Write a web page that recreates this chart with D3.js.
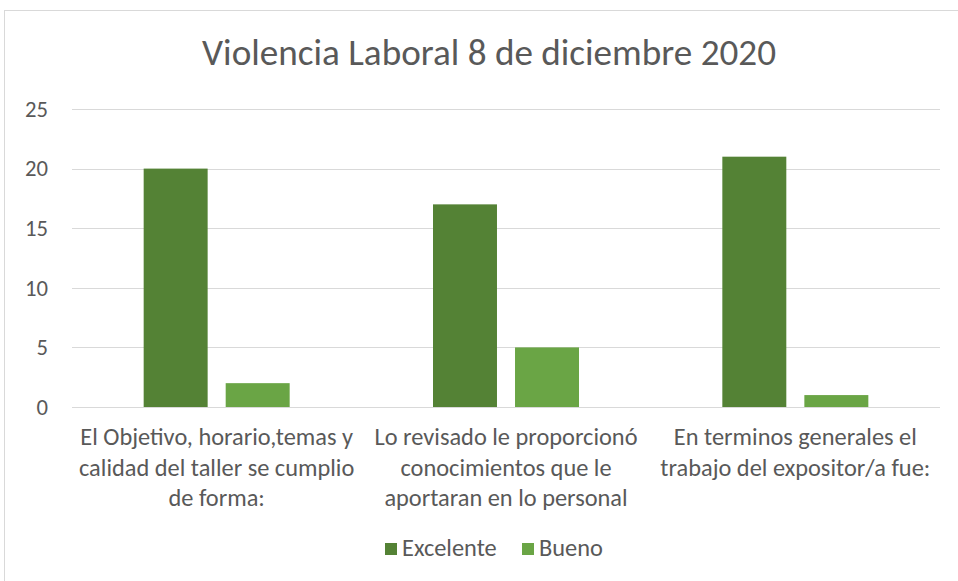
<!DOCTYPE html>
<html>
<head>
<meta charset="utf-8">
<script src="https://cdn.jsdelivr.net/npm/d3@7"></script>
<style>
  html, body { margin: 0; padding: 0; background: #fff; }
  svg text { font-family: Carlito, Lato, "Open Sans", sans-serif; fill: #595959; }
</style>
</head>
<body>
<svg id="chart" width="958" height="581"></svg>
<script>
// chart data
var title = "Violencia Laboral 8 de diciembre 2020";
var categories = [
  ["El Objetivo, horario,temas y", "calidad del taller se cumplio", "de forma:"],
  ["Lo revisado le proporcionó", "conocimientos que le", "aportaran en lo personal"],
  ["En terminos generales el", "trabajo del expositor/a fue:"]
];
var seriesNames = ["Excelente", "Bueno"];
var excelente = [20, 17, 21];
var bueno = [2, 5, 1];
var yTicks = [0, 5, 10, 15, 20, 25];
var colors = ["#548235", "#6aa545"];

var svg = d3.select("#chart");

// chart frame (runs past the right and bottom edge)
svg.append("rect")
  .attr("x", 4.5).attr("y", 10.5)
  .attr("width", 970).attr("height", 600)
  .attr("fill", "#fff")
  .attr("stroke", "#d9d9d9");

// fit a text node's font size to a wanted width
function fitWidth(sel, target) {
  var node = sel.node();
  var fs = parseFloat(sel.attr("font-size"));
  var w = node.getComputedTextLength();
  if (w > 0) sel.attr("font-size", (fs * target / w).toFixed(2));
  return parseFloat(sel.attr("font-size"));
}

var plotLeft = 72, plotRight = 940, plotTop = 109, plotBottom = 407;

var x = d3.scaleBand()
  .domain(d3.range(categories.length))
  .range([plotLeft, plotRight])
  .padding(0);

var y = d3.scaleLinear()
  .domain([0, 25])
  .range([plotBottom, plotTop]);

// title
var t = svg.append("text")
  .attr("x", 489).attr("y", 65)
  .attr("text-anchor", "middle")
  .attr("font-size", 32)
  .attr("font-weight", 300)
  .style("fill", "#595959")
  .text(title);
fitWidth(t, 574);

// gridlines
svg.append("g")
  .selectAll("line")
  .data(yTicks)
  .join("line")
  .attr("x1", plotLeft).attr("x2", plotRight)
  .attr("y1", function(d) { return Math.round(y(d)) + 0.5; })
  .attr("y2", function(d) { return Math.round(y(d)) + 0.5; })
  .attr("stroke", "#d9d9d9")
  .attr("stroke-width", 1);

// y axis labels
var yAxis = d3.axisLeft(y).tickValues(yTicks).tickSize(0).tickPadding(24);
var ya = svg.append("g")
  .attr("transform", "translate(" + plotLeft + ",0)")
  .call(yAxis);
ya.select(".domain").remove();
ya.selectAll("text")
  .attr("font-size", 20)
  .attr("font-family", null)
  .style("fill", "#595959");
var tickFs = fitWidth(ya.selectAll("text").filter(function(d) { return d === 20; }), 23);
ya.selectAll("text").attr("font-size", tickFs);

// bars
var xs = d3.scaleBand()
  .domain(d3.range(seriesNames.length))
  .paddingInner(0.22)
  .paddingOuter(0);

var allSeries = [excelente, bueno];
allSeries.forEach(function(vals, s) {
  svg.append("g")
    .selectAll("rect")
    .data(vals)
    .join("rect")
    .attr("x", function(d, i) {
      var c = x(i) + x.bandwidth() / 2;
      xs.range([c - 73, c + 73]);
      return xs(s);
    })
    .attr("y", function(d) { return y(d); })
    .attr("width", function() { return xs.bandwidth(); })
    .attr("height", function(d) { return y(0) - y(d); })
    .attr("fill", colors[s]);
});

// category labels
var catG = svg.append("g");
var probe = catG.append("text").attr("font-size", 20).text(categories[0][0]);
var catFs = fitWidth(probe, 273);
probe.remove();
categories.forEach(function(lines, i) {
  var tx = catG.append("text")
    .attr("x", x(i) + x.bandwidth() / 2)
    .attr("y", 445)
    .attr("text-anchor", "middle")
    .attr("font-size", catFs);
  lines.forEach(function(line, k) {
    tx.append("tspan")
      .attr("x", x(i) + x.bandwidth() / 2)
      .attr("dy", k === 0 ? 0 : 30.5)
      .text(line);
  });
});

// legend
var legendX = [385, 522];
var lg = svg.append("g");
seriesNames.forEach(function(name, s) {
  lg.append("rect")
    .attr("x", legendX[s]).attr("y", 543)
    .attr("width", 12).attr("height", 12)
    .attr("fill", colors[s]);
  lg.append("text")
    .attr("x", legendX[s] + 17).attr("y", 556)
    .attr("font-size", catFs)
    .text(name);
});
</script>
</body>
</html>
